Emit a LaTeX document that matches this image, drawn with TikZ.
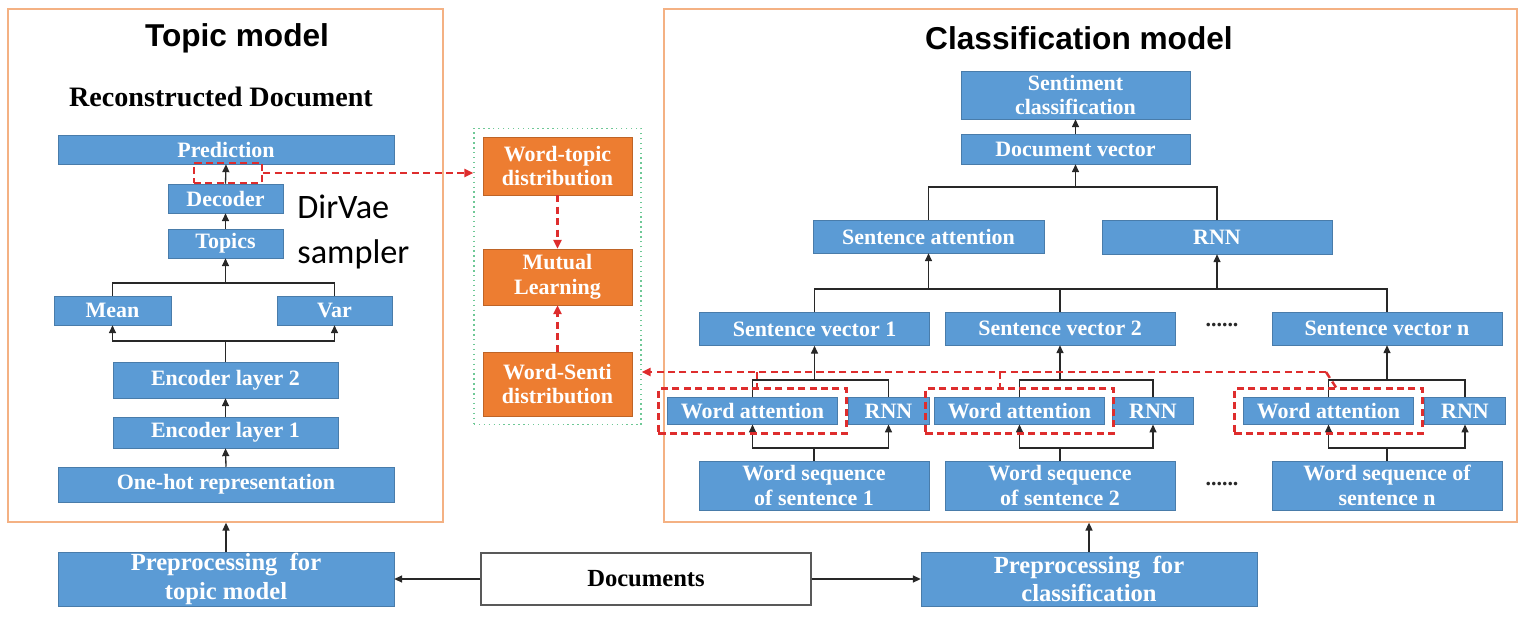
\documentclass[tikz,border=0pt]{standalone}
\usepackage{fontspec}
\setmainfont{Liberation Serif}
\setsansfont{Liberation Sans}
\newfontfamily\dirfont{Carlito}
\usepackage{tikz}
\usetikzlibrary{positioning,arrows.meta,fit}
\definecolor{boxblue}{RGB}{91,155,213}
\definecolor{boxorange}{RGB}{237,125,49}
\definecolor{framecol}{RGB}{244,177,131}
\definecolor{dashred}{RGB}{222,45,45}
\definecolor{dotgreen}{RGB}{110,200,150}
\definecolor{linecol}{RGB}{40,40,40}

\tikzset{
    blk/.style = {fill=boxblue, draw=boxblue!80!black, line width=0.3pt, text=white,
        inner sep=0pt, align=center, font=\bfseries\fontsize{12.5}{14}\selectfont},
    obk/.style = {blk, fill=boxorange, draw=boxorange!80!black},
    svbox/.style = {blk, minimum width=4.6cm, minimum height=0.66cm},
    wabox/.style = {blk, minimum width=3.4cm, minimum height=0.53cm},
    rnnbox/.style = {blk, minimum width=1.62cm, minimum height=0.53cm},
    wsbox/.style = {blk, minimum width=4.6cm, minimum height=0.98cm},
    frame/.style = {draw=framecol, line width=0.8pt, inner sep=0pt},
    ln/.style = {draw=linecol, line width=0.75pt},
    arr/.style = {ln, -{Triangle[length=4.5pt,width=4pt]}},
    rdash/.style = {draw=dashred, line width=1.4pt, dash pattern=on 4pt off 2.5pt},
    rarr/.style = {rdash, -{Triangle[length=5pt,width=4.5pt]}},
    title/.style = {font=\sffamily\bfseries\fontsize{18}{20}\selectfont}
}

\begin{document}
\begin{tikzpicture}[x=0.02cm, y=-0.02cm]
    \useasboundingbox (0,0) rectangle (1534,626);

    % frames
    \node[frame, minimum width=8.7cm, minimum height=10.26cm] (tframe) at (225.5,265.5) {};
    \node[frame, minimum width=17.06cm, minimum height=10.26cm] (cframe) at (1090.5,265.5) {};
    \node[title] (ttl) at (237,38) {Topic model};
    \node[title] (ctl) at (1079,38) {Classification model};
    \node[font=\bfseries\fontsize{16}{18}\selectfont] (recon) at (221,97) {Reconstructed Document};

    % topic model
    \node[blk, minimum width=6.72cm, minimum height=0.58cm] (pred) at (226,149.5) {Prediction};
    \node[blk, minimum width=2.3cm, minimum height=0.58cm] (dec) at (225.5,198.5) {Decoder};
    \node[blk, minimum width=2.3cm, minimum height=0.58cm] (topics) at (225.5,243.5) {Topics};
    \node[blk, minimum width=2.34cm, minimum height=0.58cm] (mean) at (112.5,310.5) {Mean};
    \node[blk, minimum width=2.3cm, minimum height=0.58cm] (var) at (334.5,310.5) {Var};
    \node[blk, minimum width=4.5cm, minimum height=0.72cm] (enc2) at (225.5,380) {Encoder layer 2};
    \node[blk, minimum width=4.5cm, minimum height=0.62cm] (enc1) at (225.5,432.5) {Encoder layer 1};
    \node[blk, minimum width=6.72cm, minimum height=0.7cm] (onehot) at (226,484.5) {One-hot representation};
    \node[font=\dirfont\fontsize{19.5}{25.5}\selectfont, align=left, anchor=west, inner sep=0pt]
        (dvs) at (297,232) {DirVae\\sampler};

    % bottom row
    \node[blk, minimum width=6.72cm, minimum height=1.08cm, font=\bfseries\fontsize{14}{16}\selectfont]
        (pretopic) at (226,579) {Preprocessing\ \ for\\topic model};
    \node[blk, fill=white, draw=gray!70!black, line width=0.8pt, text=black, minimum width=6.6cm,
        minimum height=1.04cm, font=\bfseries\fontsize{14}{16}\selectfont] (docs) at (646,579) {Documents};
    \node[blk, minimum width=6.72cm, minimum height=1.08cm, font=\bfseries\fontsize{14}{16}\selectfont]
        (precls) at (1089,579) {Preprocessing\ \ for\\classification};

    % mutual learning
    \node[obk, minimum width=2.98cm, minimum height=1.16cm] (wtd) at (557.5,166) {Word-topic\\distribution};
    \node[obk, minimum width=2.98cm, minimum height=1.12cm] (mutual) at (557.5,277) {Mutual\\Learning};
    \node[obk, minimum width=2.98cm, minimum height=1.28cm] (wsd) at (557.5,384) {Word-Senti\\distribution};
    \node[draw=dotgreen, dotted, line width=0.8pt, fit=(wtd)(wsd), inner xsep=5pt, inner ysep=4.8pt] (grn) {};

    % classification model
    \node[blk, minimum width=4.58cm, minimum height=0.96cm] (senti) at (1075.5,95) {Sentiment\\classification};
    \node[blk, minimum width=4.58cm, minimum height=0.6cm] (docvec) at (1075.5,149) {Document vector};
    \node[blk, minimum width=4.62cm, minimum height=0.66cm] (sentatt) at (928.5,236.5) {Sentence attention};
    \node[blk, minimum width=4.6cm, minimum height=0.68cm] (rnntop) at (1217,237) {RNN};
    \node[svbox] (sv1) at (814.5,329) {Sentence vector 1};
    \node[svbox] (sv2) at (1060,328.5) {Sentence vector 2};
    \node[svbox] (svn) at (1387,328.5) {Sentence vector n};
    \node[wabox] (wa1) at (752.5,411) {Word attention};
    \node[rnnbox] (rnn1) at (888.5,411) {RNN};
    \node[wabox] (wa2) at (1019.5,411) {Word attention};
    \node[rnnbox] (rnn2) at (1153,411) {RNN};
    \node[wabox] (wan) at (1328.5,411) {Word attention};
    \node[rnnbox] (rnnn) at (1465,411) {RNN};
    \node[wsbox] (ws1) at (814,485.5) {Word sequence\\of sentence 1};
    \node[wsbox] (ws2) at (1060,485.5) {Word sequence\\of sentence 2};
    \node[wsbox] (wsn) at (1387,485.5) {Word sequence of\\sentence n};
    \node[font=\bfseries\fontsize{12.5}{14}\selectfont, text=linecol] (dots1) at (1222,325) {......};
    \node[font=\bfseries\fontsize{12.5}{14}\selectfont, text=linecol] (dots2) at (1222,484) {......};

    % connectors, topic model
    \draw[arr] (pretopic.north) -- (pretopic.north |- tframe.south);
    \draw[arr] (precls.north) -- (precls.north |- cframe.south);
    \draw[arr] (docs.west) -- (pretopic.east);
    \draw[arr] (docs.east) -- (precls.west);
    \draw[arr] (onehot.north) -- (enc1.south);
    \draw[arr] (enc1.north) -- (enc2.south);
    \coordinate (lowbar) at (225.5,341);
    \draw[ln] (enc2.north) -- (lowbar);
    \draw[arr] (lowbar) -| (mean.south);
    \draw[arr] (lowbar) -| (var.south);
    \coordinate (upbar) at (225.5,283);
    \draw[ln] (mean.north) |- (upbar) -| (var.north);
    \draw[arr] (upbar) -- (topics.south);
    \draw[arr] (topics.north) -- (dec.south);
    \draw[arr] (dec.north) -- (pred.south);

    % connectors, classification model
    \draw[arr] (docvec.north) -- (senti.south);
    \coordinate (dbar) at (1075.5,187);
    \draw[ln] (sentatt.north) |- (dbar) -| (rnntop.north);
    \draw[arr] (dbar) -- (docvec.south);
    \coordinate (sbar) at (1060,289);
    \draw[ln] (sv1.north) |- (sbar) -| (svn.north);
    \draw[ln] (sv2.north) -- (sbar);
    \draw[arr] (sentatt.south |- sbar) -- (sentatt.south);
    \draw[arr] (rnntop.south |- sbar) -- (rnntop.south);
    \foreach \i in {1,2,n} {
        \draw[ln] (wa\i.north) |- (sv\i.south |- 0,380) -| (rnn\i.north);
        \draw[arr] (sv\i.south |- 0,380) -- (sv\i.south);
        \draw[ln] (ws\i.north) -- (ws\i.north |- 0,448);
        \draw[arr] (ws\i.north |- 0,448) -| (wa\i.south);
        \draw[arr] (ws\i.north |- 0,448) -| (rnn\i.south);
    }

    % red dashed links
    \node[rdash, minimum width=1.36cm, minimum height=0.4cm] (smp) at (228,173) {};
    \draw[rarr] (smp.east) -- (smp.east -| grn.west);
    \draw[rarr] (wtd.south) -- (mutual.north);
    \draw[rarr] (wsd.north) -- (mutual.south);
    \node[rdash, fit=(wa1), inner sep=5pt] (rb1) {};
    \node[rdash, fit=(wa2), inner sep=5pt] (rb2) {};
    \node[rdash, fit=(wan), inner sep=5pt] (rbn) {};
    \coordinate (rl) at (1326,372);
    \draw[rarr] (rl) -- (rl -| grn.east);
    \draw[rdash] (757,372) -- (757,0 |- rb1.north);
    \draw[rdash] (1000,372) -- (1000,0 |- rb2.north);
    \draw[rdash] (rl) -- (1336,0 |- rbn.north);
\end{tikzpicture}
\end{document}
